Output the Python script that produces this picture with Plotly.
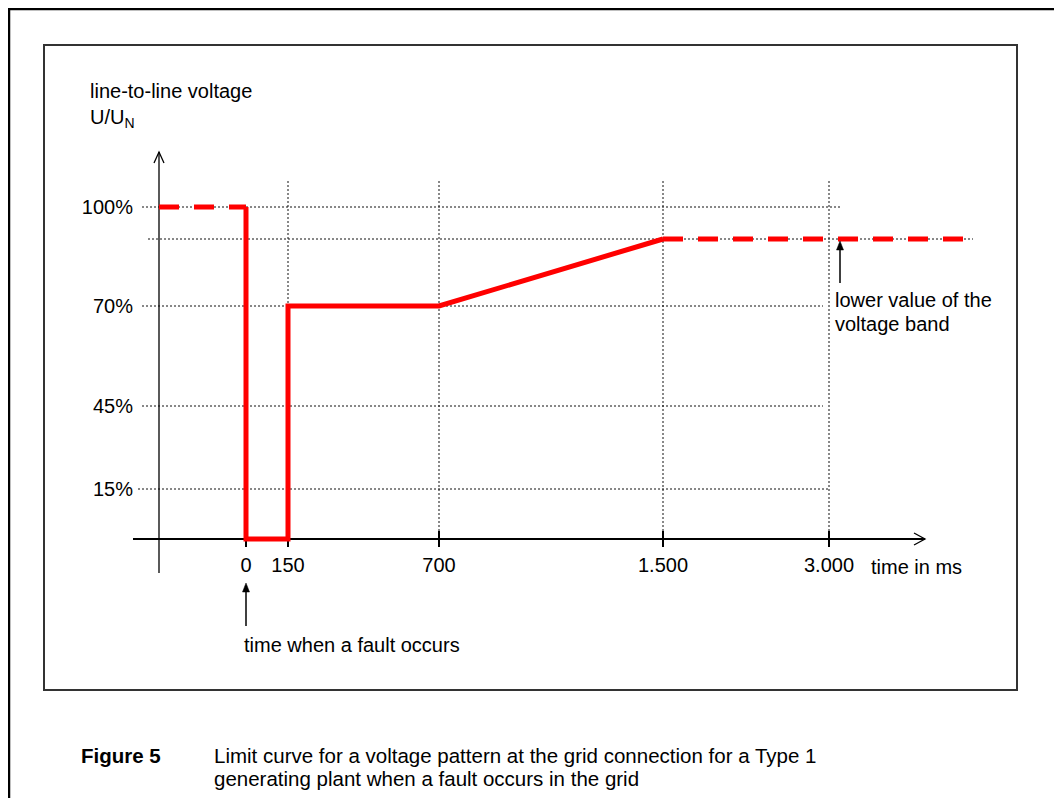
import numpy as np
import plotly.graph_objects as go

# ---------------- data ----------------
time_ms = [0, 150, 700, 1500, 3000]
time_labels = ["0", "150", "700", "1.500", "3.000"]
volt_pct = [15, 45, 70, 100]
volt_labels = ["15%", "45%", "70%", "100%"]
band_lower_pct = 90

# limit curve (solid part) and its dashed continuations
curve_ms = [0, 0, 150, 150, 700, 1500]
curve_pct = [100, 0, 0, 70, 70, 90]
pre_fault_pct = 100
post_pct = band_lower_pct

# ---------------- schematic (non-proportional) scale ----------------
X_KNOTS_MS = [0, 150, 700, 1500, 3000]
X_KNOTS_POS = [0, 42, 193, 417, 583]
Y_KNOTS_PCT = [0, 15, 45, 70, 90, 100]
Y_KNOTS_POS = [0, 50, 133, 233, 300, 332]


def sx(ms):
    return np.interp(ms, X_KNOTS_MS, X_KNOTS_POS)


def sy(p):
    return np.interp(p, Y_KNOTS_PCT, Y_KNOTS_POS)


OFF = 8                           # page body margin
W, H = 1062 - OFF, 798 - OFF      # figure size
X0_PX, Y0_PX = 246, 539           # page pixel location of origin (0 ms, 0 %)
XR = [-(X0_PX - OFF), W - (X0_PX - OFF)]
YR = [-(H - (Y0_PX - OFF)), Y0_PX - OFF]
YAXIS_X = -87                     # y-axis position in x units
FONT = "Liberation Sans, Arial, sans-serif"
RED = "#ff0000"
GRID = "#111111"


def px(x):
    return (x - OFF) / W


def py(y):
    return 1 - (y - OFF) / H


fig = go.Figure()

# dashed pre-fault level
fig.add_trace(go.Scatter(x=[YAXIS_X, sx(0)], y=[sy(pre_fault_pct)] * 2, mode="lines",
                         line=dict(color=RED, width=5, dash="20px,15px"),
                         hoverinfo="skip", showlegend=False))
# solid limit curve
fig.add_trace(go.Scatter(x=sx(curve_ms), y=sy(curve_pct), mode="lines",
                         line=dict(color=RED, width=5),
                         hoverinfo="skip", showlegend=False))
# dashed continuation at lower value of the voltage band
fig.add_trace(go.Scatter(x=[sx(1500), 727], y=[sy(post_pct)] * 2, mode="lines",
                         line=dict(color=RED, width=5, dash="20px,15px"),
                         hoverinfo="skip", showlegend=False))

shapes = []
# horizontal dotted grid lines
h_ext = {100: (-104, 594), 90: (-98, 727), 70: (-104, 577), 45: (-104, 577), 15: (-108, 584)}
for p in volt_pct + [band_lower_pct]:
    a, b = h_ext[p]
    shapes.append(dict(type="line", xref="x", yref="y", x0=a, x1=b, y0=sy(p), y1=sy(p),
                       line=dict(color=GRID, width=1, dash="2px,2px"), layer="below"))
# vertical dotted grid lines
for t in time_ms[1:]:
    shapes.append(dict(type="line", xref="x", yref="y", x0=sx(t), x1=sx(t), y0=0, y1=359,
                       line=dict(color=GRID, width=1, dash="2px,2px"), layer="below"))
# axes lines
shapes.append(dict(type="line", xref="x", yref="y", x0=-113, x1=679, y0=0, y1=0,
                   line=dict(color="black", width=2), layer="below"))
shapes.append(dict(type="line", xref="x", yref="y", x0=YAXIS_X, x1=YAXIS_X, y0=-34, y1=387,
                   line=dict(color="black", width=1.3), layer="below"))
# open arrow heads of the axes
shapes.append(dict(type="path", xref="x", yref="y",
                   path=f"M {679-11},{6} L 679,0 L {679-11},{-6}",
                   line=dict(color="black", width=1.3), layer="below"))
shapes.append(dict(type="path", xref="x", yref="y",
                   path=f"M {YAXIS_X-5},{387-11} L {YAXIS_X},387 L {YAXIS_X+5},{387-11}",
                   line=dict(color="black", width=1.3), layer="below"))
# tick marks on time axis
for t in time_ms:
    shapes.append(dict(type="line", xref="x", yref="y", x0=sx(t), x1=sx(t), y0=-8, y1=8,
                       line=dict(color="black", width=2), layer="below"))


def pointer(x, y_tail, y_head):
    """Vertical pointer arrow with a small filled head."""
    out = [dict(type="line", xref="x", yref="y", x0=x, x1=x, y0=y_tail, y1=y_head - 6,
                line=dict(color="black", width=1.5))]
    out.append(dict(type="path", xref="x", yref="y",
                    path=f"M {x-3.5},{y_head-9} L {x},{y_head} L {x+3.5},{y_head-9} Z",
                    fillcolor="black", line=dict(color="black", width=0.5)))
    return out


shapes += pointer(sx(0), -87, -44)
shapes += pointer(594, 256, sy(band_lower_pct) - 2)

# inner frame and outer page frame
shapes.append(dict(type="rect", xref="paper", yref="paper", x0=px(44), x1=px(1017),
                   y0=py(690), y1=py(45), line=dict(color="#333333", width=2)))
shapes.append(dict(type="path", xref="paper", yref="paper",
                   path=f"M {px(9)},{py(805)} L {px(9)},{py(9)} L {px(1075)},{py(9)}",
                   line=dict(color="black", width=2.5)))

TXT = dict(family=FONT, size=20, color="black")
CAP = dict(family=FONT, size=20.5, color="black")
annotations = [
    # y-axis title
    dict(xref="x", yref="y", x=-158, y=434, xanchor="left", yanchor="middle", align="left",
         text="line-to-line voltage<br>U/U<sub>N</sub>", showarrow=False, font=TXT),
    dict(xref="x", yref="y", x=869 - X0_PX, y=Y0_PX - 567, xanchor="left", yanchor="middle",
         text="time in ms", showarrow=False, font=TXT),
    dict(xref="x", yref="y", x=-4, y=Y0_PX - 645, xanchor="left", yanchor="middle",
         text="time when a fault occurs", showarrow=False, font=TXT),
    dict(xref="x", yref="y", x=587, y=Y0_PX - 300, xanchor="left", yanchor="middle",
         text="lower value of the", showarrow=False, font=TXT),
    dict(xref="x", yref="y", x=587, y=Y0_PX - 324, xanchor="left", yanchor="middle",
         text="voltage band", showarrow=False, font=TXT),
    # caption
    dict(xref="paper", yref="paper", x=px(79), y=py(755), xanchor="left", yanchor="middle",
         text="<b>Figure 5</b>", showarrow=False, font=CAP),
    dict(xref="paper", yref="paper", x=px(212), y=py(755), xanchor="left", yanchor="middle",
         text="Limit curve for a voltage pattern at the grid connection for a Type 1",
         showarrow=False, font=CAP),
    dict(xref="paper", yref="paper", x=px(212), y=py(778), xanchor="left", yanchor="middle",
         text="generating plant when a fault occurs in the grid",
         showarrow=False, font=CAP),
]

fig.update_layout(
    width=W, height=H, margin=dict(l=0, r=0, t=0, b=0),
    paper_bgcolor="white", plot_bgcolor="white",
    shapes=shapes, annotations=annotations, showlegend=False,
    font=dict(family=FONT, size=20, color="black"),
    xaxis=dict(range=XR, domain=[0, 1], anchor="free", position=(H - (Y0_PX - OFF)) / H,
               tickmode="array", tickvals=list(sx(time_ms)), ticktext=time_labels,
               showgrid=False, zeroline=False, showline=False, ticks="",
               ticklabelstandoff=12, tickfont=dict(family=FONT, size=20, color="black"),
               fixedrange=True),
    yaxis=dict(range=YR, domain=[0, 1], anchor="free", position=(X0_PX - OFF + YAXIS_X) / W,
               tickmode="array", tickvals=list(sy(volt_pct)), ticktext=volt_labels,
               showgrid=False, zeroline=False, showline=False, ticks="",
               ticklabelstandoff=26, tickfont=dict(family=FONT, size=20, color="black"),
               fixedrange=True),
)

fig.write_html("out.html")
